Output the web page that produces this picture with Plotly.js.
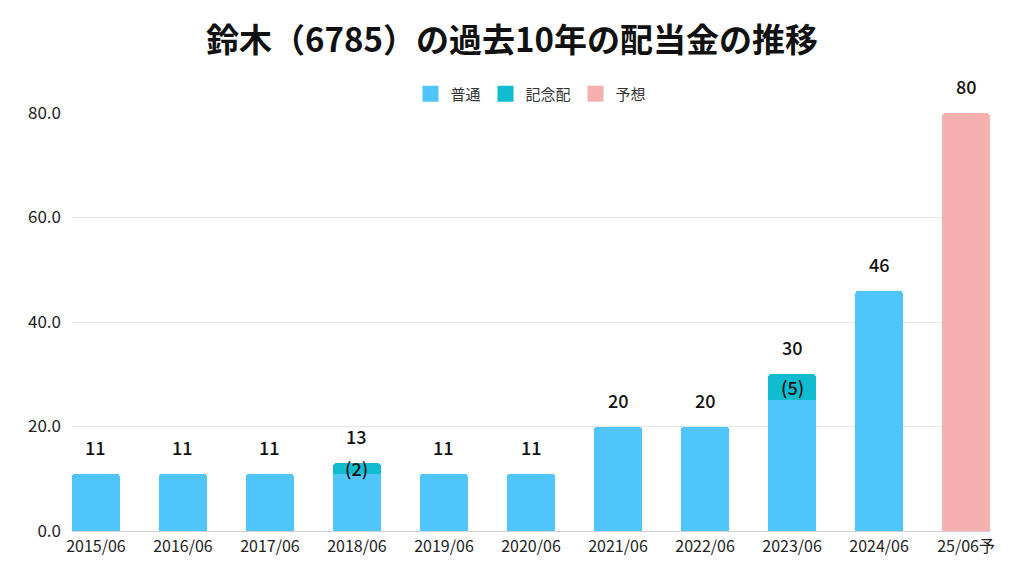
<!DOCTYPE html>
<html><head><meta charset="utf-8">
<script src="https://cdn.plot.ly/plotly-3.0.1.min.js"></script>
<style>html,body{margin:0;padding:0;background:#fff}#chart{width:1024px;height:576px}</style>
</head><body><div id="chart"></div>
<script>
const categories = ["2015/06","2016/06","2017/06","2018/06","2019/06","2020/06","2021/06","2022/06","2023/06","2024/06","25/06予"];
const regular = [11,11,11,11,11,11,20,20,25,46,null];
const commemorative = [null,null,null,2,null,null,null,null,5,null,null];
const forecast = [null,null,null,null,null,null,null,null,null,null,80];
const totalLabels = ["11","11","11","13","11","11","20","20","30","46","80"];
const seriesNames = ["普通","記念配","予想"];
const seriesColors = ["#4FC5FB","#12BCD0","#F7B0B0"];

const FONT = "'Noto Sans CJK JP','Noto Sans',sans-serif";
const seriesValues = [regular, commemorative, forecast];
const traces = seriesValues.map((vals,k)=>({type:'bar', name:seriesNames[k], x:categories, y:vals,
  marker:{color:seriesColors[k]}, hoverinfo:'skip', showlegend:false}));
seriesNames.forEach((n,k)=>traces.push({type:'scatter', mode:'markers', name:n, x:[null], y:[null],
  marker:{symbol:'square', size:16, color:seriesColors[k]}, hoverinfo:'skip', showlegend:true}));

const annotations = [];
categories.forEach((c,i)=>{
  const total = (regular[i]||0)+(commemorative[i]||0)+(forecast[i]||0);
  annotations.push({x:c, y:total, xref:'x', yref:'y', text:totalLabels[i], showarrow:false,
    yanchor:'bottom', yshift:12, font:{family:FONT, size:18, color:'#111', weight:500}});
  if (commemorative[i]) {
    annotations.push({x:c, y:(regular[i]||0)+commemorative[i]/2, xref:'x', yref:'y', text:'('+commemorative[i]+')',
      showarrow:false, yanchor:'middle', font:{family:FONT, size:18, color:'#111', weight:500}});
  }
});
const layout = {
  width:1024, height:576,
  margin:{l:72, r:34, t:113, b:45},
  paper_bgcolor:'#fff', plot_bgcolor:'#fff',
  barmode:'stack', bargap:0.45, barcornerradius:4,
  font:{family:FONT, size:14, color:'#333'},
  title:{text:'<b>鈴木（6785）の過去10年の配当金の推移</b>', x:0.5, xanchor:'center', y:1-40/576, yanchor:'middle', yref:'container',
    font:{family:FONT, size:33, color:'#111'}},
  showlegend:true,
  legend:{orientation:'h', x:0.5, xanchor:'center', y:(531-94)/418, yanchor:'middle', font:{family:FONT, size:15, color:'#333'},
    traceorder:'normal'},
  xaxis:{type:'category', range:[-0.275, 10.275], showgrid:false, showline:false, ticks:'', ticklabelstandoff:4, tickfont:{family:FONT, size:16, color:'#222'}, automargin:false},
  yaxis:{range:[0,80], dtick:20, tickformat:'.1f', showgrid:true, gridcolor:'#e6e6e6', zeroline:true, zerolinecolor:'#d0d0d0', zerolinewidth:1,
    ticklabelstandoff:10, tickfont:{family:FONT, size:17, color:'#222'}, automargin:false},
  annotations:annotations
};
Plotly.newPlot('chart', traces, layout, {staticPlot:true, displayModeBar:false});
</script></body></html>
